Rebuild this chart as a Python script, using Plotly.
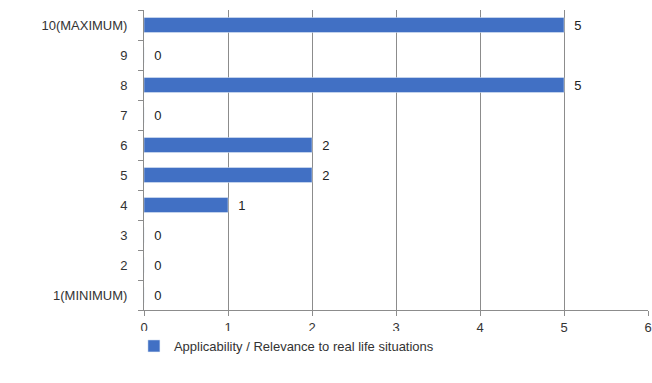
import plotly.graph_objects as go

categories = ["1(MINIMUM)", "2", "3", "4", "5", "6", "7", "8", "9", "10(MAXIMUM)"]
values = [0, 0, 0, 1, 2, 2, 0, 5, 0, 5]
series_name = "Applicability / Relevance to real life situations"
x_ticks = [0, 1, 2, 3, 4, 5, 6]

fig = go.Figure()
fig.add_trace(go.Bar(
    y=categories, x=values, orientation="h", name=series_name,
    marker=dict(color="#4170C4"), width=0.5,
    text=["  " + str(v) for v in values], textposition="outside",
    textfont=dict(size=13, color="#222222", family="Liberation Sans, Arial"),
    cliponaxis=False, showlegend=True,
))

fig.update_layout(
    width=652, height=383,
    margin=dict(l=144, r=4, t=10, b=73),
    paper_bgcolor="white", plot_bgcolor="white",
    font=dict(family="Liberation Sans, Arial", size=13, color="#333333"),
    bargap=0.5,
    legend=dict(orientation="h", x=-0.02, xanchor="left", y=-0.07, yanchor="top",
                font=dict(size=13, color="#333333")),
    xaxis=dict(range=[0, 6], tickvals=x_ticks, showgrid=True, gridcolor="#8c8c8c",
               gridwidth=1, zeroline=False, showline=True, linecolor="#8c8c8c",
               ticks="outside", ticklen=5, tickcolor="#8c8c8c", fixedrange=True,
               automargin=False),
    yaxis=dict(type="category", categoryorder="array", categoryarray=categories,
               showline=True, linecolor="#8c8c8c", ticks="outside", ticklen=5,
               tickcolor="#8c8c8c", tickson="boundaries", showgrid=False,
               ticklabelstandoff=13, automargin=False),
)

fig.write_html("out.html", config={"displayModeBar": False},
               post_script="document.body.style.margin='0';")
